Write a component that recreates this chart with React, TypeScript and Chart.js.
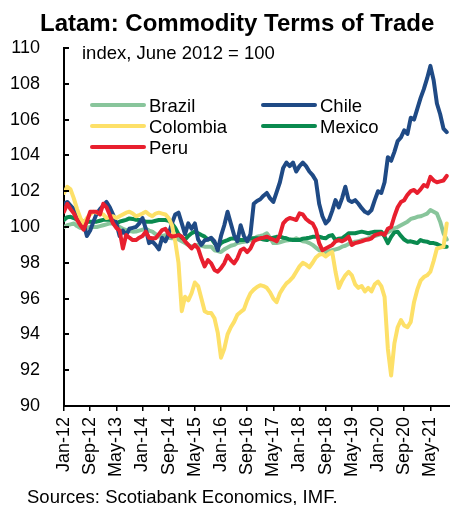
import React, { useEffect, useRef } from "react";
import { Chart, registerables } from "chart.js";

Chart.register(...registerables);

// x-axis tick labels (every 8 months from Jan-12)
const xTickLabels = [
  "Jan-12", "Sep-12", "May-13", "Jan-14", "Sep-14", "May-15", "Jan-16", "Sep-16",
  "May-17", "Jan-18", "Sep-18", "May-19", "Jan-20", "Sep-20", "May-21",
];

const seriesNames = ["Brazil", "Chile", "Colombia", "Mexico", "Peru"];

// Monthly values Jan-12 .. Oct-21 (118 months)
const brazil = [
  100.0, 100.1, 100.15, 100.2, 100.05, 99.95, 99.9, 99.95, 100.0, 100.0,
  100.0, 100.05, 100.1, 100.15, 100.2, 100.2, 100.1, 100.0, 99.9, 99.83,
  99.78, 99.74, 99.75, 99.8, 99.85, 99.9, 99.8, 99.74, 99.6, 99.46,
  99.5, 99.55, 99.4, 99.37, 99.4, 99.3, 99.2, 99.1, 99.0, 98.9,
  98.95, 99.0, 98.95, 98.9, 98.9, 98.9, 98.7, 98.65, 98.6, 98.75,
  98.85, 98.95, 99.0, 99.1, 99.15, 99.18, 99.2, 99.27, 99.35, 99.46,
  99.5, 99.55, 99.65, 99.4, 99.1, 99.1, 99.15, 99.2, 99.25, 99.27,
  99.3, 99.37, 99.3, 99.2, 99.18, 99.1, 99.0, 98.85, 98.7, 98.65,
  98.6, 98.65, 98.7, 98.75, 98.8, 98.9, 98.95, 99.05, 99.1, 99.18,
  99.2, 99.27, 99.3, 99.37, 99.46, 99.5, 99.55, 99.6, 99.65, 99.7,
  99.8, 99.93, 100.0, 100.1, 100.2, 100.3, 100.45, 100.5, 100.57, 100.6,
  100.67, 100.75, 100.95, 100.85, 100.75, 100.3, 99.65, 99.3,
];

const chile = [
  101.3, 101.4, 101.2, 101.0, 100.5, 100.3, 100.2, 99.5, 99.8, 100.3,
  100.76, 101.0, 101.2, 101.4, 101.1, 100.7, 100.2, 99.5, 99.8, 99.55,
  99.9, 99.95, 100.0, 100.2, 100.5, 99.9, 99.1, 99.2, 99.0, 98.75,
  99.4, 99.2, 99.6, 100.2, 100.7, 100.8, 100.2, 99.6, 100.2, 99.9,
  100.2, 99.3, 99.0, 99.25, 99.3, 99.4, 99.2, 98.7, 99.5, 100.1,
  100.85, 100.2, 99.55, 99.2, 100.1, 99.5, 99.2, 99.6, 101.3, 101.45,
  101.55, 101.75, 101.9, 101.6, 101.4, 101.95, 102.5, 103.3, 103.6, 103.4,
  103.6, 103.1, 103.4, 103.6, 103.4, 103.1, 102.9, 102.6, 101.3, 100.6,
  100.2, 100.4, 100.9, 101.5, 101.1, 101.6, 102.25, 101.5, 101.4, 101.5,
  101.3, 101.05, 100.85, 100.76, 100.95, 101.5, 102.0, 101.9, 102.5, 103.9,
  103.7, 104.2, 104.8, 105.0, 105.4, 105.2, 106.1, 106.0, 106.6, 107.2,
  107.7, 108.3, 109.0, 108.2, 106.9, 106.3, 105.5, 105.3,
];

const colombia = [
  101.9, 102.25, 102.1, 101.6, 101.0, 100.5, 100.2, 100.5, 100.7, 100.85,
  100.8, 100.75, 100.7, 100.5, 100.55, 100.6, 100.5, 100.6, 100.7, 100.8,
  100.85, 100.75, 100.6, 100.67, 100.75, 100.85, 100.7, 100.6, 100.75, 100.8,
  100.75, 100.7, 100.5, 100.1, 99.2, 98.0, 95.3, 96.1, 95.9, 96.3,
  96.9, 96.7, 96.0, 95.3, 95.2, 95.2, 94.9, 94.1, 92.7, 93.2,
  94.0, 94.4, 94.7, 95.1, 95.25, 95.4, 95.9, 96.3, 96.5, 96.65,
  96.75, 96.7, 96.6, 96.35, 96.0, 95.8, 96.3, 96.6, 96.85, 97.0,
  97.2, 97.5, 97.8, 98.0, 97.9, 97.75, 98.0, 98.3, 98.45, 98.5,
  98.35, 98.5, 98.6, 97.5, 96.6, 97.0, 97.3, 97.5, 97.3, 96.8,
  96.6, 96.7, 96.4, 96.6, 96.4, 96.8, 96.95, 96.7, 96.1, 93.2,
  91.7, 93.5, 94.4, 94.8, 94.5, 94.4, 94.7, 95.8, 96.5, 97.0,
  97.2, 97.3, 97.5, 98.1, 98.8, 98.85, 98.9, 100.2,
];

const mexico = [
  100.4, 100.55, 100.57, 100.5, 100.4, 100.35, 100.3, 100.3, 100.3, 100.3,
  100.3, 100.35, 100.4, 100.4, 100.4, 100.35, 100.2, 100.3, 100.35, 100.4,
  100.48, 100.45, 100.4, 100.39, 100.35, 100.3, 100.3, 100.3, 100.35, 100.39,
  100.39, 100.39, 100.35, 100.2, 99.95, 99.6, 99.4, 99.3, 99.5, 99.65,
  99.74, 99.65, 99.55, 99.46, 99.3, 99.37, 99.1, 98.9, 99.1, 99.2,
  99.27, 99.35, 99.37, 99.3, 99.27, 99.27, 99.3, 99.37, 99.37, 99.37,
  99.35, 99.3, 99.27, 99.35, 99.4, 99.45, 99.46, 99.4, 99.37, 99.3,
  99.27, 99.27, 99.27, 99.35, 99.37, 99.4, 99.45, 99.46, 99.46, 99.4,
  99.37, 99.5, 99.55, 99.27, 99.35, 99.37, 99.5, 99.65, 99.65, 99.65,
  99.7, 99.74, 99.7, 99.65, 99.7, 99.74, 99.74, 99.74, 99.46, 99.1,
  99.45, 99.7, 99.74, 99.5, 99.3, 99.18, 99.2, 99.15, 99.1, 99.27,
  99.2, 99.18, 99.1, 99.1, 99.05, 98.95, 98.9, 98.9,
];

const peru = [
  100.85, 101.3, 101.0, 100.76, 100.4, 100.1, 99.85, 100.3, 100.85, 100.85,
  100.85, 100.7, 101.3, 101.1, 100.67, 100.2, 99.95, 99.8, 98.8, 99.55,
  99.4, 99.27, 99.27, 99.4, 99.5, 99.74, 99.4, 99.37, 99.37, 99.6,
  99.83, 99.9, 99.6, 99.46, 99.5, 99.55, 99.46, 99.2, 99.0, 98.8,
  99.0, 98.8, 98.25, 97.8, 98.15, 97.97, 97.6, 97.5, 97.7, 97.97,
  98.4, 98.15, 97.97, 98.25, 98.7, 98.8, 98.6, 98.8, 99.2, 99.3,
  99.37, 99.4, 99.46, 99.37, 99.3, 99.2, 99.55, 100.2, 100.4, 100.5,
  100.45, 100.39, 100.76, 100.7, 100.45, 100.3, 100.2, 99.85, 99.1, 98.7,
  98.8, 98.9, 99.0, 99.2, 99.27, 99.2, 99.3, 99.46, 99.0, 99.1,
  99.15, 99.2, 99.27, 99.3, 99.37, 99.55, 99.6, 99.65, 99.55, 99.9,
  100.0, 100.6, 101.1, 101.4, 101.5, 101.8, 102.0, 102.07, 101.9, 102.1,
  102.35, 102.26, 102.8, 102.6, 102.5, 102.55, 102.6, 102.85,
];

const seriesValues = [brazil, chile, colombia, mexico, peru];
const seriesColors = ["#88C59B", "#1F4A85", "#FDE068", "#0A8A4F", "#E81F2E"];
const seriesOrder = [4, 2, 1, 3, 0];

const FONT = "Arial, 'Liberation Sans', sans-serif";

export default function App() {
  const canvasRef = useRef<HTMLCanvasElement | null>(null);

  useEffect(() => {
    const canvas = canvasRef.current;
    if (!canvas) return;

    const datasets = seriesNames.map((name, k) => ({
      label: name,
      data: seriesValues[k].map((v, i) => ({ x: i, y: v })),
      borderColor: seriesColors[k],
      backgroundColor: seriesColors[k],
      borderWidth: 4,
      pointRadius: 0,
      tension: 0,
      borderJoinStyle: "round" as const,
      borderCapStyle: "round" as const,
      order: seriesOrder[k],
    }));

    // legend layout: [column, row] per series
    const legendPos = [
      [0, 0],
      [1, 0],
      [0, 1],
      [1, 1],
      [0, 2],
    ];

    const overlayPlugin = {
      id: "overlay",
      afterDraw(chart: any) {
        const c = chart.ctx as CanvasRenderingContext2D;
        const area = chart.chartArea;
        const ys = chart.scales.y;
        c.save();
        // inward y ticks
        c.strokeStyle = "#000";
        c.lineWidth = 2;
        ys.ticks.forEach((t: any) => {
          const py = Math.round(ys.getPixelForValue(t.value));
          c.beginPath();
          c.moveTo(area.left, py);
          c.lineTo(area.left + 5, py);
          c.stroke();
        });
        // legend
        c.font = `18.5px ${FONT}`;
        c.textBaseline = "alphabetic";
        c.textAlign = "left";
        seriesNames.forEach((name, k) => {
          const [col, row] = legendPos[k];
          const x0 = area.left + (col === 0 ? 28 : 199);
          const y0 = area.top + 57 + row * 21;
          c.strokeStyle = seriesColors[k];
          c.lineWidth = 4;
          c.lineCap = "round";
          c.beginPath();
          c.moveTo(x0, y0);
          c.lineTo(x0 + 52, y0);
          c.stroke();
          c.fillStyle = "#000";
          c.fillText(name, x0 + 57, y0 + 6.7);
        });
        c.restore();
      },
    };

    const chart = new Chart(canvas, {
      type: "line",
      data: { datasets },
      options: {
        responsive: false,
        animation: false,
        maintainAspectRatio: false,
        layout: { padding: { top: 48, right: 0, bottom: 0, left: 0 } },
        plugins: {
          legend: { display: false },
          tooltip: { enabled: false },
          title: { display: false },
        },
        scales: {
          x: {
            type: "linear",
            min: 0,
            max: 118,
            grid: {
              display: true,
              drawOnChartArea: false,
              drawTicks: true,
              tickLength: 5,
              color: "#000",
              lineWidth: 1.5,
            },
            border: { display: true, color: "#000", width: 2 },
            ticks: {
              stepSize: 8,
              autoSkip: false,
              includeBounds: false,
              maxRotation: 90,
              minRotation: 90,
              padding: 6,
              color: "#000",
              font: { family: FONT, size: 18 },
              callback: (v: any) => {
                const n = Number(v);
                if (n % 8 !== 0) return null;
                return xTickLabels[n / 8] ?? null;
              },
            },
            afterFit: (s: any) => {
              s.height = 99;
              s.paddingLeft = 0;
              s.paddingRight = 0;
            },
          },
          y: {
            min: 90,
            max: 110,
            grid: { display: false },
            border: { display: true, color: "#000", width: 2 },
            ticks: {
              stepSize: 2,
              padding: 16,
              color: "#000",
              font: { family: FONT, size: 18 },
            },
            afterFit: (s: any) => {
              s.width = 64;
              s.paddingTop = 0;
              s.paddingBottom = 0;
            },
          },
        },
      },
      plugins: [overlayPlugin],
    });

    return () => chart.destroy();
  }, []);

  return (
    <div
      style={{
        position: "absolute",
        left: 0,
        top: 0,
        width: 450,
        height: 505,
        background: "#fff",
        overflow: "hidden",
      }}
    >
      <canvas ref={canvasRef} width={450} height={505} style={{ display: "block" }} />
      <div
        style={{
          position: "absolute",
          left: 40,
          top: 11.4,
          font: `bold 24px ${FONT}`,
          lineHeight: "24px",
          whiteSpace: "nowrap",
          color: "#000",
        }}
      >
        Latam: Commodity Terms of Trade
      </div>
      <div
        style={{
          position: "absolute",
          left: 82,
          top: 44.3,
          font: `18.5px ${FONT}`,
          lineHeight: "18.5px",
          whiteSpace: "nowrap",
          color: "#000",
        }}
      >
        index, June 2012 = 100
      </div>
      <div
        style={{
          position: "absolute",
          left: 27,
          top: 487.6,
          font: `18.5px ${FONT}`,
          lineHeight: "18.5px",
          whiteSpace: "nowrap",
          color: "#000",
        }}
      >
        Sources: Scotiabank Economics, IMF.
      </div>
    </div>
  );
}
